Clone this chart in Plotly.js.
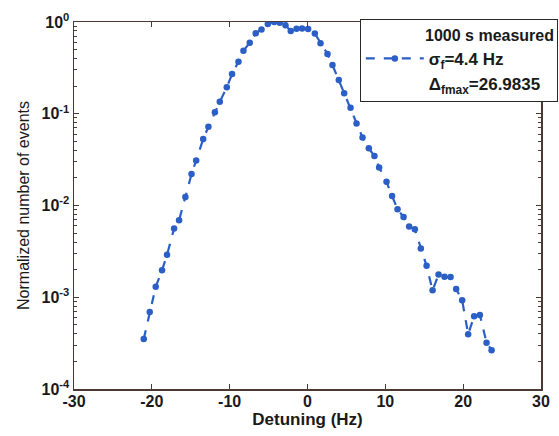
<!DOCTYPE html>
<html>
<head>
<meta charset="utf-8">
<script src="https://cdn.plot.ly/plotly-3.0.1.min.js"></script>
<style>html,body{margin:0;padding:0;background:#fff;}#chart{width:559px;height:436px;}</style>
</head>
<body>
<div id="chart"></div>
<script>
// Detuning (Hz)
const detuning = [-21.04, -20.27, -19.5, -18.69, -18.05, -17.14, -16.5, -15.69, -14.9, -14.3,
  -13.4, -12.73, -11.9, -11.27, -10.37, -9.69, -8.87, -8.23, -7.42, -6.65,
  -5.91, -5.1, -4.29, -3.56, -2.83, -2.15, -1.41, -0.7, 0.08, 0.94,
  1.67, 2.57, 3.21, 4.02, 4.71, 5.53, 6.3, 7.07, 7.88, 8.6,
  9.2, 10.15, 10.87, 11.57, 12.34, 13.06, 13.79, 14.56, 15.3, 16.07,
  16.84, 17.6, 18.38, 19.1, 19.87, 20.64, 21.41, 22.15, 23.0, 23.65];
// Normalized number of events
const events = [3.5e-4, 6.9e-4, 1.3e-3, 1.97e-3, 2.9e-3, 5.6e-3, 6.9e-3, 1.24e-2, 0.022, 0.031,
  0.053, 0.072, 0.104, 0.135, 0.194, 0.271, 0.369, 0.486, 0.595, 0.753,
  0.83, 0.95, 1.0, 0.98, 0.92, 0.80, 0.845, 0.85, 0.84, 0.75,
  0.586, 0.448, 0.34, 0.233, 0.167, 0.116, 0.0785, 0.055, 0.042, 0.0346,
  0.026, 0.0181, 0.0127, 0.0091, 0.0075, 0.0059, 0.0055, 0.0034, 0.0022, 0.00119,
  0.00177, 0.00167, 0.00166, 0.00123, 0.00093, 0.000396, 0.00062, 0.00064, 0.00032, 0.000265];

const yTickVals = [1e-4, 1e-3, 1e-2, 1e-1, 1];
const yTickText = ['10<sup>-4</sup>', '10<sup>-3</sup>', '10<sup>-2</sup>', '10<sup>-1</sup>', '10<sup>0</sup>'];
const xTickVals = [-30, -20, -10, 0, 10, 20, 30];
const xTickText = ['-30', '-20', '-10', '0', '10', '20', '30'];

const legendTitle = '1000 s measured';
const seriesName = 'σ<sub>f</sub>=4.4 Hz';
const extraName = 'Δ<sub>fmax</sub>=26.9835';

const minorVals = [];
for (let e = -4; e < 0; e++) for (let m = 2; m <= 9; m++) minorVals.push(m * Math.pow(10, e));

const blue = '#2b5fc6';
const axisCol = '#4a3a33';
const font = 'Liberation Sans, Arial, sans-serif';
const txt = '#1a1a1a';
const pad = '\u00a0'.repeat(14);

const traces = [
  {x: detuning, y: events, type: 'scatter', mode: 'lines+markers', name: seriesName,
   line: {color: blue, width: 2.2, dash: 'dash'},
   marker: {color: blue, size: 6.5, symbol: 'circle'}},
  {x: [null], y: [null], type: 'scatter', mode: 'lines+markers', name: extraName,
   line: {color: 'rgba(0,0,0,0)', width: 2, dash: 'dash'},
   marker: {color: 'rgba(0,0,0,0)', size: 6}}
];

const layout = {
  width: 559, height: 436,
  margin: {l: 74, r: 18, t: 22, b: 47, autoexpand: false},
  paper_bgcolor: '#fff', plot_bgcolor: '#fff',
  font: {family: font, color: txt},
  showlegend: true,
  legend: {
    x: 0.612, y: 1.008, xanchor: 'left', yanchor: 'top',
    bgcolor: '#fff', bordercolor: '#2a2a2a', borderwidth: 1,
    font: {family: font, size: 17, weight: 'bold', color: txt},
    title: {text: pad + legendTitle, side: 'top',
            font: {family: font, size: 16, weight: 'bold', color: txt}},
    tracegroupgap: 0, itemwidth: 58
  },
  xaxis: {
    range: [-30, 30], tickvals: xTickVals, ticktext: xTickText, ticks: 'inside', ticklen: 5, tickwidth: 1,
    tickcolor: axisCol, showline: true, linecolor: axisCol, linewidth: 1.5, mirror: 'ticks',
    showgrid: false, zeroline: false, ticklabelstandoff: -3,
    tickfont: {family: font, size: 16, weight: 'bold', color: txt},
    title: {text: 'Detuning (Hz)', font: {family: font, size: 17, weight: 'bold', color: txt}, standoff: 4}
  },
  yaxis: {
    type: 'log', range: [-4, 0], tickvals: yTickVals, ticktext: yTickText,
    ticks: 'inside', ticklen: 5, tickwidth: 1, tickcolor: axisCol,
    showline: true, linecolor: axisCol, linewidth: 1.5, mirror: 'ticks',
    showgrid: false, zeroline: false,
    minor: {tickvals: minorVals, ticks: 'inside', ticklen: 3, tickcolor: axisCol, showgrid: false},
    tickfont: {family: font, size: 16, weight: 'bold', color: txt},
    title: {text: 'Normalized number of events', font: {family: font, size: 16, color: txt}, standoff: 8}
  }
};

Plotly.newPlot('chart', traces, layout, {displayModeBar: false, staticPlot: true});
</script>
</body>
</html>
